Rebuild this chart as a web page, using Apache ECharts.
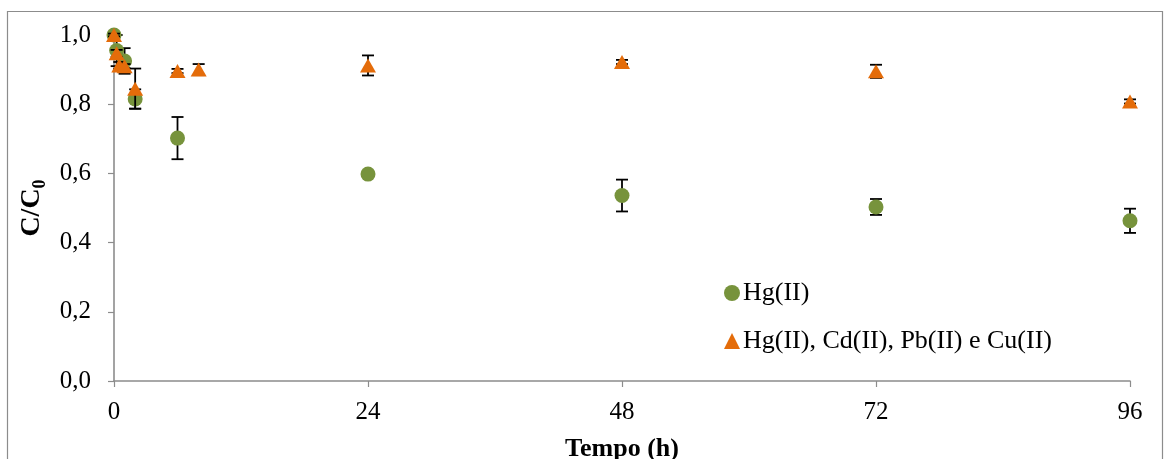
<!DOCTYPE html>
<html>
<head>
<meta charset="utf-8">
<script src="https://cdn.jsdelivr.net/npm/echarts@6/dist/echarts.min.js"></script>
<style>
  html, body { margin: 0; padding: 0; background: #fff; }
  #chart { width: 1169px; height: 459px; }
</style>
</head>
<body>
<div id="chart"></div>
<script>
// Sampling times (h) and normalised concentration C/C0 with standard deviations
const timeHg = [0, 0.25, 1, 2, 6, 24, 48, 72, 96];
const valHg  = [1.0, 0.955, 0.925, 0.815, 0.702, 0.598, 0.536, 0.503, 0.463];
const errHg  = [0.004, 0.045, 0.037, 0.028, 0.061, 0.006, 0.046, 0.023, 0.035];

const timeMix = [0, 0.25, 0.5, 1, 2, 6, 8, 24, 48, 72, 96];
const valMix  = [1.0, 0.947, 0.912, 0.91, 0.845, 0.896, 0.90, 0.912, 0.922, 0.895, 0.808];
const errMix  = [0.004, 0.01, 0.01, 0.006, 0.058, 0.006, 0.016, 0.029, 0.006, 0.019, 0.006];

const xTicks = [0, 24, 48, 72, 96];
const nameHg = 'Hg(II)';
const nameMix = 'Hg(II), Cd(II), Pb(II) e Cu(II)';

const FONT = '"Liberation Serif", "Times New Roman", serif';
const GREEN = '#77933C';
const ORANGE = '#E46C0A';

function rows(t, v, e) {
  return t.map((x, i) => [x, v[i], e[i]]);
}

// Vertical error bar with caps, positioned through the axes
function errorBar(params, api) {
  const x = api.value(0), y = api.value(1), e = api.value(2);
  const top = api.coord([x, y + e]);
  const bot = api.coord([x, y - e]);
  const cap = 6;
  const style = { stroke: '#000', lineWidth: 1.8 };
  return {
    type: 'group',
    children: [
      { type: 'line', shape: { x1: top[0], y1: top[1], x2: bot[0], y2: bot[1] }, style },
      { type: 'line', shape: { x1: top[0] - cap, y1: top[1], x2: top[0] + cap, y2: top[1] }, style },
      { type: 'line', shape: { x1: bot[0] - cap, y1: bot[1], x2: bot[0] + cap, y2: bot[1] }, style }
    ]
  };
}

const chart = echarts.init(document.getElementById('chart'), null, { renderer: 'canvas' });

chart.setOption({
  animation: false,
  backgroundColor: '#fff',
  textStyle: { fontFamily: FONT, color: '#000' },
  grid: { left: 114, right: 39, top: 35, bottom: 78, containLabel: false, outerBoundsMode: 'none' },
  graphic: [{
    type: 'rect',
    shape: { x: 7.5, y: 11.5, width: 1155, height: 470 },
    style: { fill: 'none', stroke: '#8c8c8c', lineWidth: 1.2 },
    silent: true, z: -10
  }],
  legend: {
    orient: 'vertical',
    left: 719,
    top: 275,
    itemGap: 22,
    itemWidth: 16,
    itemHeight: 16,
    textStyle: { fontFamily: FONT, fontSize: 26, color: '#000', padding: [0, 0, 0, -2] },
    data: [
      { name: nameHg, icon: 'circle' },
      { name: nameMix, icon: 'triangle' }
    ]
  },
  xAxis: {
    type: 'value',
    min: 0, max: 96, interval: 24,
    name: 'Tempo (h)',
    nameLocation: 'middle',
    nameGap: 55,
    nameTextStyle: { fontFamily: FONT, fontSize: 26, fontWeight: 'bold', color: '#000' },
    axisLine: { show: true, lineStyle: { color: '#8c8c8c', width: 1.6 } },
    axisTick: { show: true, length: 6, lineStyle: { color: '#8c8c8c', width: 1.2 } },
    axisLabel: {
      fontFamily: FONT, fontSize: 25, color: '#000', margin: 19,
      formatter: v => xTicks.includes(v) ? String(v) : ''
    },
    splitLine: { show: false }
  },
  yAxis: {
    type: 'value',
    min: 0, max: 1, interval: 0.2,
    name: '{m|C/C}{s|0}',
    nameLocation: 'middle',
    nameGap: 64,
    nameRotate: 90,
    nameTextStyle: {
      rich: {
        m: { fontFamily: FONT, fontSize: 28, fontWeight: 'bold', color: '#000', lineHeight: 34 },
        s: { fontFamily: FONT, fontSize: 18, fontWeight: 'bold', color: '#000', lineHeight: 16, verticalAlign: 'bottom' }
      }
    },
    axisLine: { show: true, lineStyle: { color: '#8c8c8c', width: 1.6 } },
    axisTick: { show: true, length: 6, lineStyle: { color: '#8c8c8c', width: 1.2 } },
    axisLabel: {
      fontFamily: FONT, fontSize: 25, color: '#000', margin: 23,
      formatter: v => v.toFixed(1).replace('.', ',')
    },
    splitLine: { show: false }
  },
  series: [
    {
      name: nameHg + ' err',
      type: 'custom',
      renderItem: errorBar,
      data: rows(timeHg, valHg, errHg),
      encode: { x: 0, y: 1 },
      clip: false,
      z: 2,
      silent: true
    },
    {
      name: nameHg,
      type: 'scatter',
      symbol: 'circle',
      symbolSize: 15,
      itemStyle: { color: GREEN, opacity: 1 },
      data: rows(timeHg, valHg, errHg).map(r => [r[0], r[1]]),
      clip: false,
      z: 3
    },
    {
      name: nameMix + ' err',
      type: 'custom',
      renderItem: errorBar,
      data: rows(timeMix, valMix, errMix),
      encode: { x: 0, y: 1 },
      clip: false,
      z: 4,
      silent: true
    },
    {
      name: nameMix,
      type: 'scatter',
      symbol: 'triangle',
      symbolSize: [16, 14],
      itemStyle: { color: ORANGE, opacity: 1 },
      data: rows(timeMix, valMix, errMix).map(r => [r[0], r[1]]),
      clip: false,
      z: 5
    }
  ]
});
</script>
</body>
</html>
